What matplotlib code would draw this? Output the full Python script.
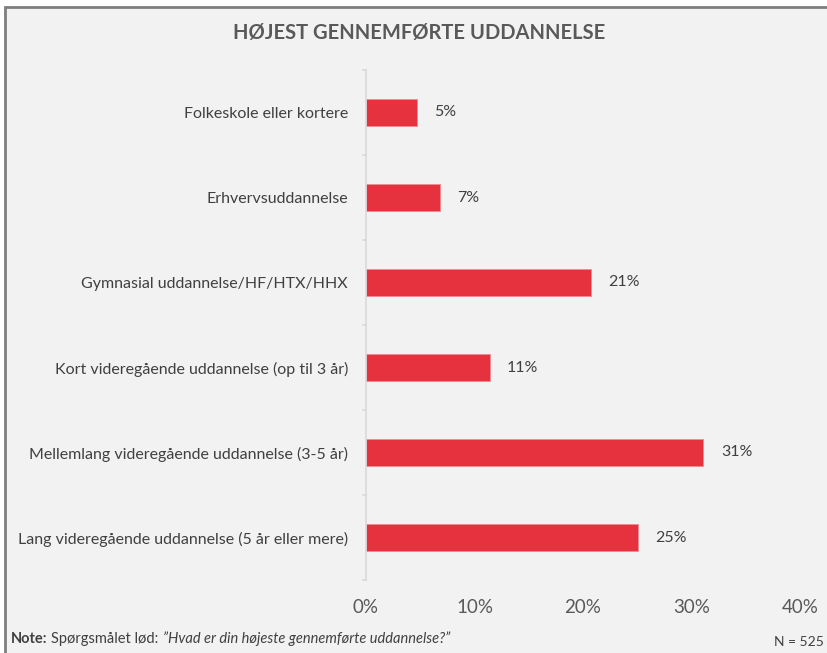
import matplotlib
matplotlib.use("Agg")
import matplotlib.pyplot as plt
import matplotlib.patches as patches

# Data
categories = [
    "Folkeskole eller kortere",
    "Erhvervsuddannelse",
    "Gymnasial uddannelse/HF/HTX/HHX",
    "Kort videregående uddannelse (op til 3 år)",
    "Mellemlang videregående uddannelse (3-5 år)",
    "Lang videregående uddannelse (5 år eller mere)",
]
values = [4.7, 6.8, 20.7, 11.4, 31.1, 25.1]
value_labels = ["5%", "7%", "21%", "11%", "31%", "25%"]
xticks = [0, 10, 20, 30, 40]
xtick_labels = ["0%", "10%", "20%", "30%", "40%"]

plt.rcParams['font.family'] = ['Lato', 'DejaVu Sans']

W, H = 828, 653
fig = plt.figure(figsize=(W / 100, H / 100), dpi=100)
fig.patch.set_facecolor("white")

# grey panel with border
panel = patches.Rectangle((5 / W, -0.01), 1.0, 1.01 - 7 / H, transform=fig.transFigure,
                          facecolor="#f2f2f2", edgecolor="#7f7f7f", linewidth=2, zorder=-10)
fig.patches.append(panel)

ax = fig.add_axes([366 / W, 1 - 580 / H, (800 - 366) / W, (580 - 70) / H])
ax.set_facecolor("none")

n = len(categories)
pos = list(range(n))
ax.barh(pos, values, height=0.31, color="#e5323e", edgecolor="#f08a90", linewidth=0.6)
ax.set_ylim(n - 0.5, -0.5)
ax.set_xlim(0, 40)

for p, v, lab in zip(pos, values, value_labels):
    ax.text(v + 1.6, p, lab, va="center", ha="left", fontsize=11.5, color="#404040")

# category labels
ax.set_yticks(pos)
ax.set_yticklabels(categories, fontsize=11.5, color="#404040")
ax.tick_params(axis="y", length=0, pad=13)
# boundary tick marks
for b in [i - 0.5 for i in range(n + 1)]:
    ax.plot([-0.25, 0], [b, b], color="#d9d9d9", lw=1.2, clip_on=False)

ax.set_xticks(xticks)
ax.set_xticklabels(xtick_labels, fontsize=13.5, color="#595959")
ax.tick_params(axis="x", length=0, pad=14)

for s in ["top", "right", "bottom"]:
    ax.spines[s].set_visible(False)
ax.spines["left"].set_color("#d9d9d9")
ax.spines["left"].set_linewidth(1.2)

fig.text(419 / W, 1 - 33 / H, "HØJEST GENNEMFØRTE UDDANNELSE", ha="center", va="center",
         fontsize=14.5, fontweight="bold", color="#595959")

# note line, pieces placed one after another
renderer = fig.canvas.get_renderer()
x = 11
parts = [("Note:", {"fontweight": "bold"}), ("Spørgsmålet lød:", {}),
         ("\u201dHvad er din højeste gennemførte uddannelse?\u201d", {"style": "italic"})]
for txt, kw in parts:
    t = fig.text(x / W, 1 - 639 / H, txt, ha="left", va="center", fontsize=10.5,
                 color="#404040", **kw)
    x += t.get_window_extent(renderer).width + 4
fig.text(824 / W, 1 - 642 / H, "N = 525", ha="right", va="center", fontsize=10, color="#404040")

fig.savefig("out.png", dpi=100, facecolor=fig.get_facecolor())
